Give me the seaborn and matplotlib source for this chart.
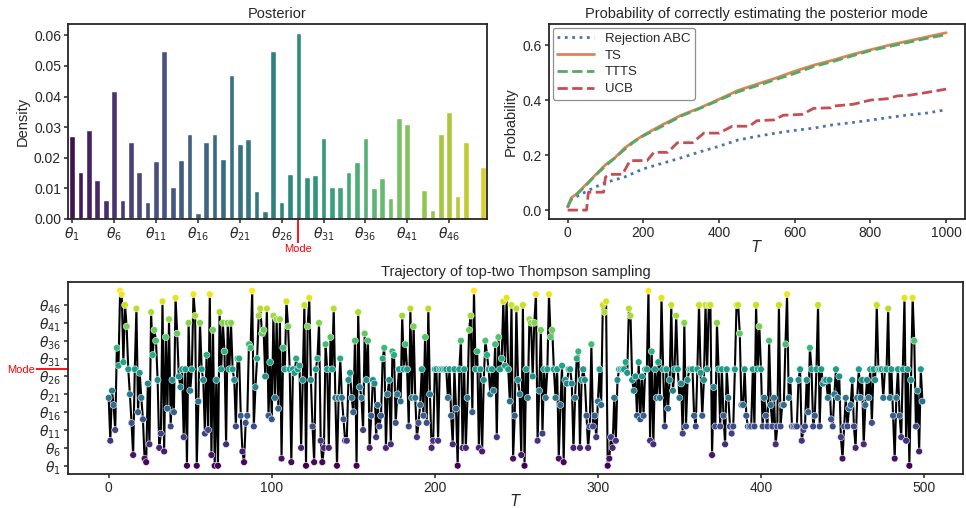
import numpy as np
import pandas as pd
import matplotlib
matplotlib.use("Agg")
import matplotlib.pyplot as plt
import seaborn as sns

# ---------------- data ----------------
# Posterior density of the 50 arms (theta_1 .. theta_50)
density = [0.0270, 0.0154, 0.0290, 0.0127, 0.0061, 0.0418, 0.0061, 0.0253, 0.0154, 0.0056,
           0.0188, 0.0548, 0.0104, 0.0191, 0.0277, 0.0021, 0.0250, 0.0279, 0.0196, 0.0471,
           0.0245, 0.0261, 0.0090, 0.0027, 0.0548, 0.0057, 0.0148, 0.0607, 0.0136, 0.0143,
           0.0264, 0.0103, 0.0103, 0.0154, 0.0185, 0.0264, 0.0100, 0.0133, 0.0069, 0.0331,
           0.0311, 0.0002, 0.0095, 0.0029, 0.0277, 0.0349, 0.0075, 0.0251, 0.0000, 0.0171]
arm_labels = [f"theta{i + 1}" for i in range(50)]
mode_index = 27  # theta_28

# Probability of correctly estimating the posterior mode
T_grid = [0, 10, 25, 50, 75, 100, 125, 150, 175, 200, 250, 300, 350, 400, 450, 500,
          550, 600, 650, 700, 750, 800, 850, 900, 950, 1000]
p_abc = [0.010, 0.040, 0.050, 0.068, 0.085, 0.100, 0.110, 0.120, 0.135, 0.150, 0.170, 0.190,
         0.212, 0.232, 0.255, 0.268, 0.280, 0.290, 0.298, 0.310, 0.318, 0.327, 0.337, 0.346,
         0.353, 0.365]
p_ts = [0.012, 0.045, 0.060, 0.095, 0.130, 0.165, 0.190, 0.225, 0.250, 0.272, 0.310, 0.345,
        0.372, 0.403, 0.435, 0.458, 0.480, 0.505, 0.527, 0.545, 0.565, 0.583, 0.600, 0.615,
        0.630, 0.645]
p_ttts = [0.010, 0.040, 0.058, 0.092, 0.128, 0.160, 0.190, 0.220, 0.248, 0.270, 0.305, 0.342,
          0.370, 0.400, 0.430, 0.452, 0.475, 0.497, 0.522, 0.540, 0.560, 0.580, 0.595, 0.610,
          0.625, 0.638]
T_ucb = [0, 50, 55, 95, 100, 110, 145, 165, 210, 228, 265, 290, 330, 360, 400, 435, 480,
         500, 545, 570, 620, 650, 695, 700, 755, 800, 845, 870, 905, 950, 1000]
p_ucb = [0.000, 0.000, 0.065, 0.065, 0.120, 0.130, 0.130, 0.180, 0.180, 0.210, 0.210, 0.245,
         0.245, 0.280, 0.280, 0.305, 0.305, 0.325, 0.328, 0.345, 0.348, 0.370, 0.372, 0.378,
         0.385, 0.400, 0.405, 0.415, 0.418, 0.428, 0.440]

# Trajectory of top-two Thompson sampling (arm index 0..49 chosen at each step)
traj_a = [19, 7, 21, 17, 10, 33, 28, 49, 48, 29, 45, 39, 27, 20, 12, 3, 27, 44, 15, 26,
          19, 13, 2, 1, 23, 6, 43, 31, 38, 35, 24, 5, 9, 46, 4, 36, 16, 41, 11, 24,
          15, 47, 37, 25, 22, 27, 8, 27, 0, 40, 21, 27]
traj_b = [48, 42, 0, 18, 40, 27, 24, 9, 31, 10, 48, 3, 38, 0, 24, 0, 43, 27, 40, 32,
          6, 40, 27, 40, 27, 24, 11, 30, 30, 14, 4, 1, 12, 14, 34, 33, 49, 11, 22, 30,
          42, 44, 37, 38, 25, 44, 14, 29, 13, 42, 19, 41, 16, 41, 2, 33, 27, 46, 39, 27,
          1, 27, 26, 30, 27, 28, 5, 24, 45, 0, 39, 47, 24, 11, 1, 27, 30, 40, 7, 1,
          5, 34, 27]
traj_c = [5, 36, 27, 44, 19, 0, 19, 30, 19, 13, 7, 7, 24, 26, 19, 15, 35, 0, 43, 22,
          19, 10, 37, 24, 35, 5, 14, 24, 23, 8, 17, 11, 14, 30, 33, 5, 20, 24, 6, 32,
          31, 12, 20, 27, 18, 42, 27, 34, 27, 11, 44, 19, 39, 19, 8, 12, 17, 27, 14, 36,
          12, 44, 20, 5, 7, 27, 27, 7, 27, 27, 27, 27, 27, 19, 27, 14, 6, 27, 16]
traj_d = [0, 27, 35, 5, 27, 5, 19, 38, 42, 15, 49, 27, 32, 5, 27, 4, 24, 35, 31, 27,
          20, 27, 21, 34, 8, 36, 27, 30, 46, 28, 47, 27, 18, 45, 2, 14, 44, 24, 20, 3,
          45, 0, 27, 19, 41, 40, 25, 40, 48, 7, 21, 38, 9, 27, 19, 27, 48, 36, 38, 27,
          19, 27, 2, 17, 28, 1, 24, 23, 27, 27, 23, 5, 19, 30, 32, 5, 24, 27, 24, 14]
traj_e = [5, 11, 34, 11, 14, 8, 18, 27, 17, 45, 43, 46, 0, 2, 8, 5, 19, 7, 24, 27,
          27, 27, 27, 29, 26, 44, 42, 24, 21, 25, 14, 29, 13, 25, 14, 27, 27, 49, 7, 32,
          6, 27, 19, 29, 19, 47, 27, 11, 27, 16, 24, 45, 21, 27, 42, 27, 19, 23, 9, 40,
          11, 24, 27, 27, 27, 14, 11, 27, 45, 26, 14, 24, 45, 27, 45, 45, 3, 22, 11, 40, 27]
traj_f = [11, 27, 14, 6, 27, 19, 11, 9, 11, 27, 45, 45, 37, 17, 17, 27, 14, 11, 11, 11,
          27, 11, 45, 27, 39, 27, 11, 19, 14, 11, 35, 17, 11, 19, 6, 11, 45, 11, 17, 17,
          34, 48, 19, 24, 11, 11, 11, 11, 24, 27, 7, 10, 11, 24, 15, 33, 27, 11, 14, 27,
          45, 11, 27, 23, 24, 24, 19, 24, 13, 11, 20, 27, 19, 25, 8, 2, 11, 19, 11]
traj_g = [16, 17, 24, 11, 5, 19, 27, 19, 24, 6, 17, 24, 19, 27, 12, 27, 24, 45, 27, 27,
          27, 19, 27, 27, 44, 19, 27, 14, 2, 19, 27, 14, 8, 27, 47, 7, 27, 0, 24, 47,
          35, 11, 21, 4, 27, 18]
trajectory = traj_a + traj_b + traj_c + traj_d + traj_e + traj_f + traj_g
steps = list(range(len(trajectory)))

# ---------------- style ----------------
sns.set_theme(style="ticks", rc={
    "axes.linewidth": 1.3,
    "axes.edgecolor": "#262626",
    "xtick.major.size": 3.0, "ytick.major.size": 3.0,
    "xtick.major.width": 1.1, "ytick.major.width": 1.1,
    "xtick.major.pad": 2.0, "ytick.major.pad": 2.0,
    "xtick.labelsize": 10, "ytick.labelsize": 10,
    "axes.labelsize": 10.5, "axes.titlesize": 10.5,
    "legend.fontsize": 9.5,
})
plt.rcParams["font.family"] = ["Liberation Sans", "DejaVu Sans"]
plt.rcParams["mathtext.fontset"] = "dejavusans"

theta_ticks = list(range(0, 50, 5))
theta_labels = [f"$\\theta_{{{i + 1}}}$" for i in theta_ticks]

fig = plt.figure(figsize=(9.66, 5.08), dpi=100)
ax1 = fig.add_axes([0.0704, 0.569, 0.4336, 0.384])
ax2 = fig.add_axes([0.568, 0.569, 0.431, 0.384])
ax3 = fig.add_axes([0.0704, 0.066, 0.9266, 0.379])

# ---------------- posterior ----------------
sns.barplot(x=arm_labels, y=density, hue=arm_labels, palette="viridis", legend=False,
            width=0.68, ax=ax1)
ax1.set_xticks(theta_ticks, theta_labels)
ax1.set_xticks([mode_index], ["Mode"], minor=True)
ax1.tick_params(axis="x", which="minor", length=17, width=1.3, color="red",
                labelcolor="red", labelsize=8, pad=1)
ax1.set_yticks([0, 0.01, 0.02, 0.03, 0.04, 0.05, 0.06])
ax1.yaxis.set_major_formatter(matplotlib.ticker.FormatStrFormatter("%.2f"))
ax1.set_ylabel("Density", labelpad=3)
ax1.set_xlabel("")
ax1.set_title("Posterior", pad=4)

# ---------------- probability ----------------
sns.lineplot(x=T_grid, y=p_abc, ax=ax2, color="#4c72b0", linestyle=":", lw=2.0,
             label="Rejection ABC")
sns.lineplot(x=T_grid, y=p_ts, ax=ax2, color="#dd8452", linestyle="-", lw=2.0, label="TS")
sns.lineplot(x=T_grid, y=p_ttts, ax=ax2, color="#55a868", linestyle="--", lw=2.0,
             label="TTTS")
sns.lineplot(x=T_ucb, y=p_ucb, ax=ax2, color="#c44e52", linestyle="--", lw=2.0, label="UCB")
ax2.set_xticks([0, 200, 400, 600, 800, 1000])
ax2.set_yticks([0.0, 0.2, 0.4, 0.6])
ax2.set_xlabel("$T$", labelpad=-1)
ax2.set_ylabel("Probability", labelpad=3)
ax2.set_title("Probability of correctly estimating the posterior mode", pad=4)
leg = ax2.legend(loc="upper left", frameon=True, fancybox=True, borderaxespad=0.3,
                 handlelength=2.8, labelspacing=0.35, borderpad=0.35)
leg.get_frame().set_edgecolor("0.45")
leg.get_frame().set_linewidth(0.9)

# ---------------- trajectory ----------------
sns.lineplot(x=steps, y=trajectory, ax=ax3, color="black", lw=1.5, zorder=2)
sns.scatterplot(x=steps, y=trajectory, hue=trajectory, palette="viridis", legend=False,
                s=24, edgecolor="white", linewidth=0.4, ax=ax3, zorder=3)
ax3.set_yticks(theta_ticks, theta_labels)
ax3.set_yticks([mode_index], ["Mode"], minor=True)
ax3.tick_params(axis="y", which="minor", length=23, width=1.3, color="red",
                labelcolor="red", labelsize=8, pad=1)
ax3.set_xticks([0, 100, 200, 300, 400, 500])
ax3.set_xlabel("$T$", labelpad=-2)
ax3.set_ylabel("")
ax3.set_title("Trajectory of top-two Thompson sampling", pad=4)

fig.savefig("out.png", dpi=100)
